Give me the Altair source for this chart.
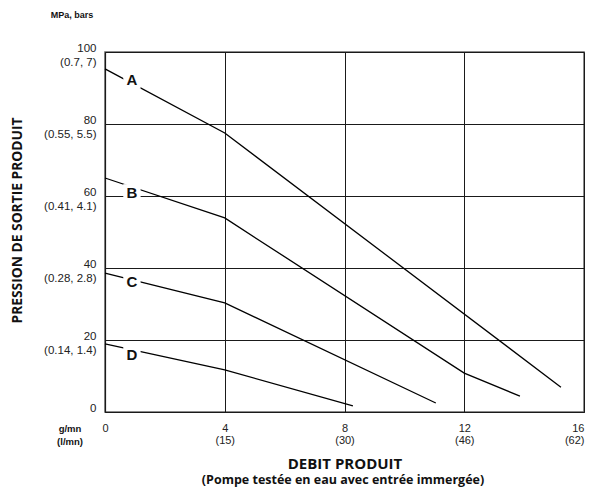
import json
import altair as alt
import pandas as pd

# ---- data ----
series = ["A", "B", "C", "D"]
a_x = [0, 4, 15.23]
a_y = [95.3, 77.5, 6.9]
b_x = [0, 4, 12, 13.86]
b_y = [65.0, 53.9, 10.8, 4.4]
c_x = [0, 4, 11.05]
c_y = [38.6, 30.3, 2.5]
d_x = [0, 4, 8.28]
d_y = [18.9, 11.7, 1.7]
widths = [1.3, 1.3, 2.4, 1.3]

label_x = [0.9, 0.9, 0.9, 0.9]
label_y = [92.2, 60.9, 36.1, 15.8]

x_ticks = [0, 4, 8, 12, 16]
x_sub = ["", "(15)", "(30)", "(46)", "(62)"]
y_ticks = [0, 20, 40, 60, 80, 100]
y_sub = ["", "(0.14, 1.4)", "(0.28, 2.8)", "(0.41, 4.1)", "(0.55, 5.5)", "(0.7, 7)"]

y_title = "PRESSION DE SORTIE PRODUIT"
x_title = "DEBIT PRODUIT"
x_subtitle = "(Pompe testée en eau avec entrée immergée)"
unit_top = "MPa, bars"
unit_bottom = "g/mn\n(l/mn)"

# ---- build tables ----
rows = []
for s, xs, ys in zip(series, [a_x, b_x, c_x, d_x], [a_y, b_y, c_y, d_y]):
    for i, (xv, yv) in enumerate(zip(xs, ys)):
        rows.append({"series": s, "x": xv, "y": yv, "order": i})
lines_df = pd.DataFrame(rows)
labels_df = pd.DataFrame({"series": series, "x": label_x, "y": label_y})


def label_map(ticks, subs):
    m = {}
    for t, s in zip(ticks, subs):
        m[str(t)] = [str(t), s] if s else str(t)
    return json.dumps(m) + "[datum.value]"


W, H = 479, 360
LABEL_FONT = "Liberation Sans"
TITLE_FONT = "Open Sans"

x_enc = alt.X(
    "x:Q",
    scale=alt.Scale(domain=[0, 16], nice=False, zero=False),
    axis=alt.Axis(
        values=x_ticks,
        labelExpr=label_map(x_ticks, x_sub),
        grid=True,
        gridColor="#1a1a1a",
        gridWidth=1,
        ticks=False,
        domainColor="#1a1a1a",
        domainWidth=1.2,
        labelFont=LABEL_FONT,
        labelFontSize=11,
        labelColor="#222",
        labelBaseline="top",
        labelAlign={"condition": {"test": f"datum.value == {x_ticks[-1]}", "value": "right"},
                    "value": "center"},
        labelPadding=10,
        labelLineHeight=12,
        labelOverlap=False,
        labelFlush=False,
        title=x_title,
        titleFont=TITLE_FONT,
        titleFontWeight="bold",
        titleFontSize=15,
        titleColor="#111",
        titleY=51,
        titleBaseline="middle",
    ),
)
y_enc = alt.Y(
    "y:Q",
    scale=alt.Scale(domain=[0, 100], nice=False, zero=False),
    axis=alt.Axis(
        values=y_ticks,
        labelExpr=label_map(y_ticks, y_sub),
        grid=True,
        gridColor="#1a1a1a",
        gridWidth=1,
        ticks=False,
        domainColor="#1a1a1a",
        domainWidth=1.2,
        labelFont=LABEL_FONT,
        labelFontSize=11.5,
        labelColor="#222",
        labelBaseline="top",
        labelAlign="right",
        labelPadding=9,
        labelOffset=-10,
        labelLineHeight=14.5,
        labelOverlap=False,
        labelFlush=False,
        title=y_title,
        titleFont=TITLE_FONT,
        titleFontWeight="bold",
        titleFontSize=13.8,
        titleColor="#111",
        titleAngle=270,
        titleX=-88,
        titleY=168,
        titleAlign="center",
        titleBaseline="middle",
    ),
)

lines = alt.Chart(lines_df).mark_line(color="black", strokeCap="butt").encode(
    x=x_enc,
    y=y_enc,
    order="order:Q",
    detail="series:N",
    strokeWidth=alt.StrokeWidth(
        "series:N", scale=alt.Scale(domain=series, range=widths), legend=None
    ),
)

label_bg = alt.Chart(labels_df).mark_point(
    shape="square", filled=True, color="white", opacity=1, size=300
).encode(x="x:Q", y="y:Q")

label_text = alt.Chart(labels_df).mark_text(
    font=LABEL_FONT, fontWeight="bold", fontSize=15, color="#111",
    align="center", baseline="middle",
).encode(x="x:Q", y="y:Q", text="series:N")

notes_df = pd.DataFrame({"top": [unit_top], "bottom": [unit_bottom], "sub": [x_subtitle]})

unit_top_mark = alt.Chart(notes_df).mark_text(
    font=LABEL_FONT, fontWeight="bold", fontSize=9, color="#111",
    align="center", baseline="middle",
).encode(x=alt.value(-33), y=alt.value(-37), text="top:N")

unit_bottom_mark = alt.Chart(notes_df).mark_text(
    font=LABEL_FONT, fontWeight="bold", fontSize=9.5, color="#111",
    align="center", baseline="top", lineBreak="\n", lineHeight=13,
).encode(x=alt.value(-35), y=alt.value(372), text="bottom:N")

subtitle_mark = alt.Chart(notes_df).mark_text(
    font=TITLE_FONT, fontWeight="bold", fontSize=12.5, color="#111",
    align="center", baseline="middle",
).encode(x=alt.value(238), y=alt.value(428), text="sub:N")

chart = alt.layer(
    lines, label_bg, label_text, unit_top_mark, unit_bottom_mark, subtitle_mark
).properties(
    width=W,
    height=H,
    autosize=alt.AutoSizeParams(type="none"),
    padding={"left": 97, "top": 44, "right": 3, "bottom": 76},
    background="white",
).configure_view(
    stroke="#666", strokeWidth=1.5
)

chart.save("out.html", embed_options={"renderer": "svg", "actions": False})
